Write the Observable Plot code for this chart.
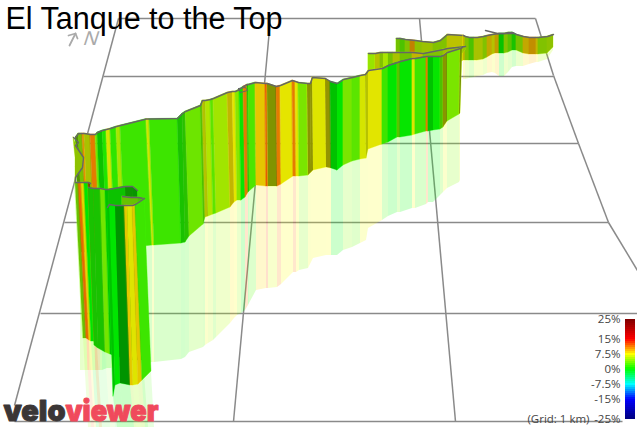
<!DOCTYPE html>
<html><head><meta charset="utf-8">
<style>html,body{margin:0;padding:0;background:#fff;overflow:hidden}svg{display:block}</style>
<script src="https://cdn.jsdelivr.net/npm/d3@7"></script>
<script src="https://cdn.jsdelivr.net/npm/@observablehq/plot@0.6"></script>
</head><body><div id="chart"></div>
<script>
const titleText = "El Tanque to the Top";
const gridNames = ["top","a","b","c","d","e","left","mid1","mid2","right1","right2","right3","right4"];
const gridX1 = [118,103,85,64,40,14,118,270,419,535,553,578,608];
const gridY1 = [18,76,143,222,313,421,18,18,18,18,75,143,222];
const gridX2 = [535,553,578,608,637,622,14,233,455,553,578,608,637];
const gridY2 = [18,76,143,222,313,421,405,421,421,75,143,222,270];

const gradeDomain = [-25,-15,-7.5,0,7.5,15,25];
const gradeRange = ["#00007c","#0000ff","#00ffff","#00ff00","#ffff00","#ff0000","#7c0000"];
const legendTicks = [25,15,7.5,0,-7.5,-15,-25];
const legendLabels = ["25%","15%","7.5%","0%","-7.5%","-15%","-25%"];
const legendGrades = d3.range(25,-25,-1);

// far tail F
const fTopX=[463,465,469,474,477,483,487,492,495,499,504,508,512,516,523,529,536,538,547,553];
const fTopY=[35,36,37,37,37,36,35,34,33.5,33,33,32,32,34,36,37,37,37,36,34];
const fBotX=fTopX;
const fBotY=[60,60,60,60,60,59,57,54,53,53,53,52,50,50,53,54,54,54,53,47];
const fRefY=[79,79,78,77,76,75,73,72,73,76,76,72,67,66,66,64,62,62,59,50];
const fGrade=[8,5,3,6.5,6.5,5,8.5,7,9,0.3,5,3.5,1,4.5,8.5,9.5,8,5,5.5];
const fFace=[1,1,1,1,1,1,1,1,1,1,1,1,1,1,1,1,1,1,1];

// back ribbon D
const dTopX=[396,400,405,410,415,422,433,440,447,463];
const dTopY=[38,38,39,39.5,40,41,42,40,34,35];
const dBotX=dTopX;
const dBotY=[70,70,70,70,70,70,70,70,70,60];
const dGrade=[4.5,3,5,10,5.5,6,5,5,7.3];
const dFace=[1,1,1,1,1,1,1,1,1];

// middle ribbon C
const cTopX=[368,375,380,383,388,393,400,412,423,443,447,465];
const cTopY=[53,53,52,52,52,52,52,52,53,49,48,46];
const cBotX=cTopX;
const cBotY=[72,72,72,72,72,72,72,72,72,70,70,50];
const cGrade=[5,7,5,5.5,4.5,6.5,4.5,8,5,6,6];
const cFace=[0,1,1,0,1,1,1,1,1,1,1];

// main wall M
const mTopX=[75,78,82,84,90,95,97,102,106,110,116,120,146,149,177,182,185,200,202,205,210,213,227,232,235,239,243,247,248,255,265,267,276,280,292,295,298,307,310,312,325,330,337,343,352,360,365,368,382,388,397,400,412,415,426,428,433,440,443,447,460,462];
const mTopY=[137,133,133,133,134,134,132,130,129,128,126,125,118.5,118.5,118,113,111,105,100,100,99,98,92,91,91,89,86,84,84,82,83,83,86,85,80,81,82,83,83,77,78,81,83,79,77,75,74,70,68,65,62,61,58,58,56,56,56,56,55,52,48,47];
const mBotX=[80,83,87,89,95,100,102,107,111,115,121,125,152,154,181,185,189,203,205,208,213,216,230,234,237,241,245,248,249,256,266,268,277,281,293,296,299,308,311,313,326,331,337,343,352,360,366,368,382,388,397,400,412,415,426,428,433,440,443,447,459,460];
const mBotY=[252,252,252,252,252,252,252,252,252,252,250,248,245,245,243,242,236,224,217,216,214,213,207,202,200,200,197,192,191,185,186,186,186,184,176,176,176,175,172,170,167,168,170,165,161,159,158,149,144,142,137,137,135,134,131,131,130,129,127,121,114,113];
const mRefY=[370,370,370,370,370,370,370,368,368,366,366,365,362,362,359,357,352,347,345,343,340,337,323,318,315,313,310,305,303,290,288,288,287,284,272,272,270,268,262,258,255,255,255,250,247,243,240,228,220,216,212,212,208,208,204,202,202,195,192,188,182,180];
const mGrade=[4,4.5,10.5,6.5,11,4,0.5,1,7,1.5,5.5,2,6.8,2,1,1.5,3.6,3,7,5.8,3,5.3,8,7.5,4.5,0.3,11,0.5,2.5,8.5,12,6.5,11,7.5,11,7.5,4,7,7.3,7.3,7.5,0,0,4,3,7,7,7.4,2,0,3.5,0.2,7.3,2,11,0,0.2,3,7,4,6];
const mFace=[2,1,0,1,0,0,1,0,0,0,0,0,0,0,1,1,0,1,1,0,0,0,1,0,0,0,0,1,0,0,0,2,0,0,0,0,0,2,2,0,2,1,0,0,0,0,1,0,0,0,1,0,0,0,0,1,0,1,2,0,2];

// olive sliver behind the squiggle
const sqLeftX=[73,74,75,75,75,75];
const sqRightX=[73,77,83,82,75,75];
const sqY=[137,148,157,167,177,182];

// near walls
const w1TopX=[75,78,81,84,88,90];
const w1TopY=[182,182,182,182,182,183];
const w1BotX=[83,86,89,91,94,97];
const w1BotY=[338,338,340,341,341,347];
const w1RefX=[88,91,94,96,99,102];
const w1Grade=[4,11.5,8,0,12,1];
const w1Face=[1,0,0,0,2];

const w2TopX=[88,93,100,105,108,125,132,137];
const w2TopY=[187,188,188,189,189,186,186,190];
const w2BotX=[94,98,105,110,113,130,137,143];
const w2BotY=[345,348,352,354,355,360,360,360];
const w2RefX=[99,103,110,115,118,135,142,148];
const w2Grade=[1,1,3.8,0,0.5,0.8,0.5];
const w2Face=[1,1,0,1,1,2,2];

const loopTopX=[122,130,138,143];
const loopTopY=[196,197,197,198];
const loopBotY=[205,205,204,199];
const loopGrade=[4,4,3];
const loopFace=[1,1,1];

const w3TopX=[107,109,115,124,127,132,135,144];
const w3TopY=[207,204,205,205,205,205,204,198];
const w3BotX=[113,115,120,130,133,138,142,151];
const w3BotY=[396,385,383,385,385,384,380,371];
const w3RefX=[117,119,124,134,136,141,145,154];
const w3Grade=[0,0,0,8.5,7.3,8.5,2];
const w3Face=[1,0,2,0,0,0,0];

const hookX=[485,497,513];
const hookY=[30,33,33];
const ringX=[238,245,247,240,238];
const ringY=[88,87,90,92,88];
const squiggleX=[73,78,75,77,83,82,75,75];
const squiggleY=[137,142,145,148,157,167,177,182];
const arrowX=[69,75,68,75,77];
const arrowY=[45,33,35,33,38];

const strips=(tx,ty,bx,by,grades,faces)=>grades.flatMap((g,i)=>[i,i+1].map(j=>({sx:tx[j],sy:ty[j],ex:bx[j],ey:by[j],g,f:faces[i],z:i})));
const topLine=(x,y)=>x.map((v,i)=>({x:v,y:y[i]}));
const shade=[0.1,0.24,0.42];

const wall=(rows)=>[
  Plot.area(rows,{x1:"sx",y1:"sy",x2:"ex",y2:"ey",z:"z",fill:"g",stroke:"g",strokeWidth:0.4,curve:"linear"}),
  Plot.area(rows,{x1:"sx",y1:"sy",x2:"ex",y2:"ey",z:"z",fill:"#000",fillOpacity:d=>shade[d.f],curve:"linear"})
];
const refl=(rows,o=0.2)=>Plot.area(rows,{x1:"sx",y1:"sy",x2:"ex",y2:"ey",z:"z",fill:"g",fillOpacity:o,curve:"linear"});
const edge=(x,y,w=1.4)=>Plot.line(topLine(x,y),{x:"x",y:"y",stroke:"#666",strokeWidth:w,curve:"linear"});

const fRows=strips(fTopX,fTopY,fBotX,fBotY,fGrade,fFace);
const dRows=strips(dTopX,dTopY,dBotX,dBotY,dGrade,dFace);
const cRows=strips(cTopX,cTopY,cBotX,cBotY,cGrade,cFace);
const mRows=strips(mTopX,mTopY,mBotX,mBotY,mGrade,mFace);
const w1Rows=strips(w1TopX,w1TopY,w1BotX,w1BotY,w1Grade,w1Face);
const w2Rows=strips(w2TopX,w2TopY,w2BotX,w2BotY,w2Grade,w2Face);
const w3Rows=strips(w3TopX,w3TopY,w3BotX,w3BotY,w3Grade,w3Face);
const loopRows=strips(loopTopX,loopTopY,loopTopX,loopBotY,loopGrade,loopFace);
const sqRows=strips(sqLeftX,sqY,sqRightX,sqY,[5.5,5.5,5.5,5.5,5.5],[1,1,1,1,1]);

const fAll=new Array(427).fill(427);
const chart=Plot.plot({
  width:637,height:427,margin:0,
  x:{domain:[0,637],range:[0,637],axis:null},
  y:{domain:[0,427],range:[0,427],axis:null},
  color:{type:"linear",domain:gradeDomain,range:gradeRange},
  marks:[
    Plot.link(gridNames,{x1:(d,i)=>gridX1[i],y1:(d,i)=>gridY1[i],x2:(d,i)=>gridX2[i],y2:(d,i)=>gridY2[i],stroke:"#8a8a8a",strokeWidth:1.5}),
    refl(strips(fBotX,fBotY,fBotX,fRefY,fGrade,fFace)),
    refl(strips(mBotX,mBotY,mBotX,mRefY,mGrade,mFace)),
    refl(strips(w2BotX,w2BotY,w2RefX,fAll,w2Grade,w2Face),0.1),
    refl(strips(w1BotX,w1BotY,w1RefX,fAll,w1Grade,w1Face),0.13),
    refl(strips(w3BotX,w3BotY,w3RefX,fAll,w3Grade,w3Face),0.13),
    ...wall(dRows),edge(dTopX,dTopY),
    ...wall(fRows),edge(fTopX,fTopY),edge(hookX,hookY),
    ...wall(cRows),edge(cTopX,cTopY),
    ...wall(mRows),edge(mTopX,mTopY),
    edge(ringX,ringY,1),
    ...wall(sqRows),edge(squiggleX,squiggleY),
    ...wall(w1Rows),edge(w1TopX,w1TopY),
    ...wall(w2Rows),edge(w2TopX,w2TopY),
    ...wall(loopRows),edge(loopTopX,loopTopY),
    ...wall(w3Rows),edge(w3TopX,w3TopY),
    Plot.rect(legendGrades,{x1:()=>625,x2:()=>635,y1:d=>369-2*d,y2:d=>369-2*(d-1),fill:d=>d-0.5}),
    Plot.text(legendLabels,{x:()=>620,y:(d,i)=>369-2*legendTicks[i],text:d=>d,textAnchor:"end",fontSize:11.5,fontFamily:"Open Sans",fill:"#444"}),
    Plot.text(["(Grid: 1 km)"],{x:()=>589,y:()=>419,text:d=>d,textAnchor:"end",fontSize:11.5,fontFamily:"Open Sans",fill:"#444"}),
    Plot.text([titleText],{x:()=>5,y:()=>19,text:d=>d,textAnchor:"start",fontSize:30.5,fontFamily:"Liberation Sans",fill:"#000"}),
    Plot.line(topLine(arrowX.slice(0,2),arrowY.slice(0,2)),{x:"x",y:"y",stroke:"#aaa",strokeWidth:1.8}),
    Plot.line(topLine(arrowX.slice(2),arrowY.slice(2)),{x:"x",y:"y",stroke:"#aaa",strokeWidth:1.8}),
    Plot.text(["N"],{x:()=>91,y:()=>38,text:d=>d,fontSize:20,fontFamily:"Liberation Sans",fill:"#aaa",className:"north"}),
    Plot.text(["velo"],{x:()=>3,y:()=>411,text:d=>d,textAnchor:"start",fontSize:29,fontWeight:900,fontFamily:"Inter",fill:"#3b3636",stroke:"#3b3636",strokeWidth:1,className:"logo-a"}),
    Plot.text(["viewer"],{x:()=>65,y:()=>411,text:d=>d,textAnchor:"start",fontSize:29,fontWeight:900,fontFamily:"Inter",fill:"#f04a5c",stroke:"#f04a5c",strokeWidth:1,className:"logo-b"})
  ]
});
document.getElementById("chart").append(chart);
d3.select(chart).selectAll(".logo-a text").attr("textLength",62).attr("lengthAdjust","spacingAndGlyphs");
d3.select(chart).selectAll(".logo-b text").attr("textLength",93).attr("lengthAdjust","spacingAndGlyphs");
d3.select(chart).selectAll(".north text").each(function(){const t=this.getAttribute("transform")||"";this.setAttribute("transform",t+" skewX(-18)");});
</script></body></html>
